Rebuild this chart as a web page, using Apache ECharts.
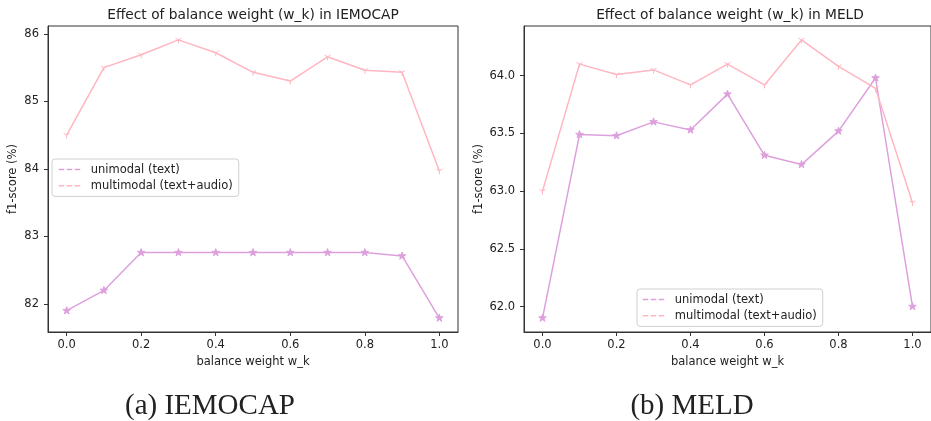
<!DOCTYPE html>
<html>
<head>
<meta charset="utf-8">
<script src="https://cdn.jsdelivr.net/npm/echarts@6/dist/echarts.min.js"></script>
<style>
html,body{margin:0;padding:0;background:#fff;}
#c{width:931px;height:421px;}
</style>
</head>
<body>
<div id="c"></div>
<script>
// ---- data ----
var xValues = [0.0, 0.1, 0.2, 0.3, 0.4, 0.5, 0.6, 0.7, 0.8, 0.9, 1.0];
var iemocapUni = [81.90, 82.20, 82.76, 82.76, 82.76, 82.76, 82.76, 82.76, 82.76, 82.71, 81.79];
var iemocapMulti = [84.50, 85.50, 85.69, 85.91, 85.72, 85.43, 85.30, 85.66, 85.46, 85.43, 83.97];
var meldUni = [61.90, 63.49, 63.48, 63.60, 63.53, 63.84, 63.31, 63.23, 63.52, 63.98, 62.00];
var meldMulti = [63.00, 64.10, 64.01, 64.05, 63.92, 64.10, 63.92, 64.31, 64.08, 63.89, 62.90];
var xTicks = [0.0, 0.2, 0.4, 0.6, 0.8, 1.0];
var iemocapYTicks = [82, 83, 84, 85, 86];
var meldYTicks = [62.0, 62.5, 63.0, 63.5, 64.0];
var seriesNames = ['unimodal (text)', 'multimodal (text+audio)'];
var chartTitles = ['Effect of balance weight (w_k) in IEMOCAP', 'Effect of balance weight (w_k) in MELD'];
var captions = ['(a) IEMOCAP', '(b) MELD'];
var xName = 'balance weight w_k';
var yName = 'f1-score (%)';

// ---- styles ----
var UNI = '#DDA0DD', MULTI = '#FFB6C1', INK = '#222', SPINE = '#333';
var FONT = 'DejaVu Sans';
var FS = 11.5;
var STAR = 'path://M0,-100L22.45,-30.9L95.11,-30.9L36.33,11.8L58.78,80.9L0,38.2L-58.78,80.9L-36.33,11.8L-95.11,-30.9L-22.45,-30.9ZM0,100';
var TRI = 'path://M0,0L0,100M0,0L86.6,-50M0,0L-86.6,-50M0,-100';

function pairs(ys){ return xValues.map(function(x,i){ return [x, ys[i]]; }); }

function xAxis(gi){
  return {
    type:'value', gridIndex:gi, min:-0.05, max:1.05,
    name:xName, nameLocation:'middle', nameGap:22,
    nameTextStyle:{fontFamily:FONT, fontSize:FS, color:INK},
    axisLine:{show:true, onZero:false, lineStyle:{color:SPINE, width:1}}, splitLine:{show:false},
    axisTick:{show:true, length:4, lineStyle:{color:SPINE, width:1}, customValues:xTicks},
    axisLabel:{fontFamily:FONT, fontSize:FS, color:INK, margin:7, customValues:xTicks,
      formatter:function(v){ return Number(v).toFixed(1); }}
  };
}
function yAxis(gi, mn, mx, ticks, dec, gap){
  return {
    type:'value', gridIndex:gi, min:mn, max:mx,
    name:yName, nameLocation:'middle', nameGap:gap, nameRotate:90,
    nameTextStyle:{fontFamily:FONT, fontSize:FS, color:INK},
    axisLine:{show:true, onZero:false, lineStyle:{color:SPINE, width:1}}, splitLine:{show:false},
    axisTick:{show:true, length:4, lineStyle:{color:SPINE, width:1}, customValues:ticks},
    axisLabel:{fontFamily:FONT, fontSize:FS, color:INK, margin:9, customValues:ticks,
      formatter:function(v){ return Number(v).toFixed(dec); }}
  };
}
function lineSeries(name, gi, ys, color, sym, size){
  return {
    type:'line', name:name, xAxisIndex:gi, yAxisIndex:gi, data:pairs(ys),
    symbol:sym, symbolSize:size, symbolKeepAspect:true, showSymbol:true,
    lineStyle:{color:color, width:1.5},
    itemStyle:{color:color, borderColor:color, borderWidth:1},
    emphasis:{disabled:true}, animation:false
  };
}
function legend(left, top, pl){
  return {
    data:seriesNames, orient:'vertical', left:left, top:top,
    itemWidth:24, itemHeight:14, itemGap:3,
    padding:[4, 6, 4, pl],
    backgroundColor:'rgba(255,255,255,0.8)', borderColor:'#d0d0d0', borderWidth:1, borderRadius:3,
    textStyle:{fontFamily:FONT, fontSize:FS, color:INK, padding:[0,0,0,3]},
    itemStyle:{opacity:0},
    lineStyle:{type:[5.5,2.5], width:1.5},
    selectedMode:false
  };
}

var chart = echarts.init(document.getElementById('c'), null, {renderer:'canvas'});
chart.setOption({
  backgroundColor:'#fff',
  animation:false,
  title:[
    {text:chartTitles[0], left:253, top:8, textAlign:'center', padding:0,
     textStyle:{fontFamily:FONT, fontSize:13.75, fontWeight:'normal', color:INK}},
    {text:chartTitles[1], left:730, top:8, textAlign:'center', padding:0,
     textStyle:{fontFamily:FONT, fontSize:13.75, fontWeight:'normal', color:INK}},
    {text:captions[0], left:210, top:392, textAlign:'center', padding:0,
     textStyle:{fontFamily:'Liberation Serif', fontSize:29, fontWeight:'normal', color:INK}},
    {text:captions[1], left:692, top:392, textAlign:'center', padding:0,
     textStyle:{fontFamily:'Liberation Serif', fontSize:29, fontWeight:'normal', color:INK}}
  ],
  grid:[
    {left:48, top:26, width:410, height:306, show:true, borderColor:SPINE, borderWidth:1, backgroundColor:'transparent'},
    {left:524, top:26, width:411, height:306, show:true, borderColor:SPINE, borderWidth:1, backgroundColor:'transparent'}
  ],
  xAxis:[xAxis(0), xAxis(1)],
  yAxis:[
    yAxis(0, 81.584, 86.116, iemocapYTicks, 0, 29),
    yAxis(1, 61.7795, 64.4305, meldYTicks, 1, 38)
  ],
  legend:[legend(52, 159, 6), legend(637, 289, 5)],
  series:[
    lineSeries(seriesNames[0], 0, iemocapUni, UNI, STAR, 8),
    lineSeries(seriesNames[1], 0, iemocapMulti, MULTI, TRI, 7),
    lineSeries(seriesNames[0], 1, meldUni, UNI, STAR, 8),
    lineSeries(seriesNames[1], 1, meldMulti, MULTI, TRI, 7)
  ]
});
</script>
</body>
</html>
